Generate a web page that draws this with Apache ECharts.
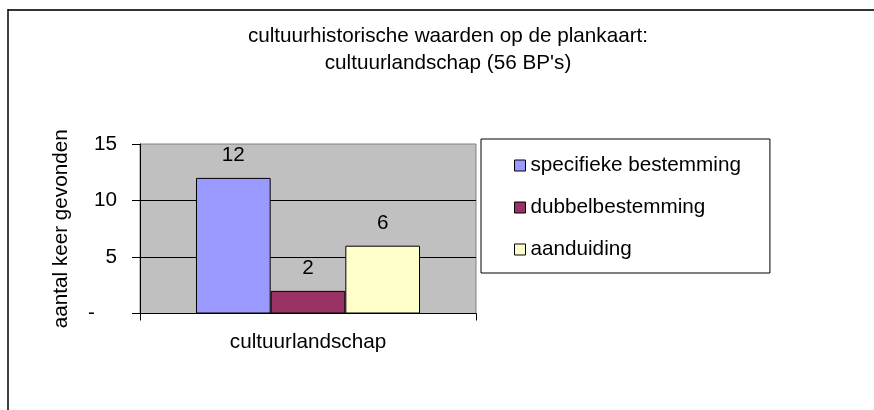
<!DOCTYPE html>
<html>
<head>
<meta charset="utf-8">
<script src="https://cdn.jsdelivr.net/npm/echarts@6/dist/echarts.min.js"></script>
<style>
html,body{margin:0;padding:0;background:#fff;}
#c{width:874px;height:410px;}
</style>
</head>
<body>
<div id="c"></div>
<script>
var categories = ['cultuurlandschap'];
var seriesNames = ['specifieke bestemming', 'dubbelbestemming', 'aanduiding'];
var specifiekeValues = [12];
var dubbelValues = [2];
var aanduidingValues = [6];
var seriesColors = ['#9999FF', '#993366', '#FFFFCC'];
var yMin = 0, yMax = 15, yInterval = 5;
var titleLines = ['cultuurhistorische waarden op de plankaart:', "cultuurlandschap (56 BP's)"];
var yAxisName = 'aantal keer gevonden';

var FONT = "'Liberation Sans', Arial, sans-serif";
var FS = 20.7;

var chart = echarts.init(document.getElementById('c'), null, {renderer: 'canvas'});
var valueSets = [specifiekeValues, dubbelValues, aanduidingValues];
var series = seriesNames.map(function (n, i) {
  return {
    name: n,
    type: 'bar',
    data: valueSets[i],
    barGap: '0%',
    barCategoryGap: '33.333%',
    itemStyle: {color: seriesColors[i], borderColor: '#000', borderWidth: 1},
    label: {show: true, position: 'top', distance: 12, color: '#000', fontSize: FS, fontFamily: FONT},
    emphasis: {disabled: true},
    animation: false
  };
});

chart.setOption({
  animation: false,
  textStyle: {fontFamily: FONT},
  grid: {left: 140, right: 398, top: 144, bottom: 96.5, show: true, backgroundColor: '#C0C0C0', borderColor: '#808080', borderWidth: 1},
  graphic: [
    {type: 'line', shape: {x1: 8, y1: 10, x2: 880, y2: 10}, style: {stroke: '#333', lineWidth: 2}, silent: true},
    {type: 'line', shape: {x1: 8, y1: 9, x2: 8, y2: 420}, style: {stroke: '#000', lineWidth: 1.5}, silent: true},
    {type: 'text', x: 448, y: 36, style: {text: titleLines[0], textAlign: 'center', textVerticalAlign: 'middle', font: FS + 'px ' + FONT, fill: '#000'}, silent: true},
    {type: 'text', x: 448, y: 63.3, style: {text: titleLines[1], textAlign: 'center', textVerticalAlign: 'middle', font: FS + 'px ' + FONT, fill: '#000'}, silent: true}
  ],
  legend: {
    orient: 'vertical',
    left: 481, top: 139,
    padding: [16, 29, 13, 33],
    itemGap: 21,
    itemWidth: 11, itemHeight: 11,
    itemTextGap: 8,
    icon: 'rect',
    itemStyle: {borderColor: '#000', borderWidth: 1},
    backgroundColor: '#fff',
    borderColor: '#000', borderWidth: 1,
    borderRadius: 0,
    textStyle: {fontSize: FS, color: '#000', fontFamily: FONT},
    selectedMode: false,
    data: seriesNames
  },
  xAxis: {
    type: 'category',
    data: categories,
    axisLine: {lineStyle: {color: '#000', width: 1}},
    axisTick: {show: true, length: 7, interval: 0, lineStyle: {color: '#000'}},
    axisLabel: {margin: 18, fontSize: FS, color: '#000', fontFamily: FONT},
    splitLine: {show: false}
  },
  yAxis: {
    type: 'value',
    min: yMin, max: yMax, interval: yInterval,
    name: yAxisName,
    nameLocation: 'middle',
    nameRotate: 90,
    nameGap: 68,
    nameTextStyle: {fontSize: FS, color: '#000', fontFamily: FONT},
    axisLine: {show: true, lineStyle: {color: '#000', width: 1}},
    axisTick: {show: true, length: 8, lineStyle: {color: '#000'}},
    axisLabel: {
      margin: 23, fontSize: FS, color: '#000', fontFamily: FONT,
      formatter: function (v) { return v === 0 ? '{d|-}' : String(v); },
      rich: {d: {padding: [0, 22, 0, 0], fontSize: FS, color: '#000', fontFamily: FONT}}
    },
    splitLine: {show: true, showMinLine: false, showMaxLine: false, lineStyle: {color: '#000', width: 1}}
  },
  series: series
});
</script>
</body>
</html>
